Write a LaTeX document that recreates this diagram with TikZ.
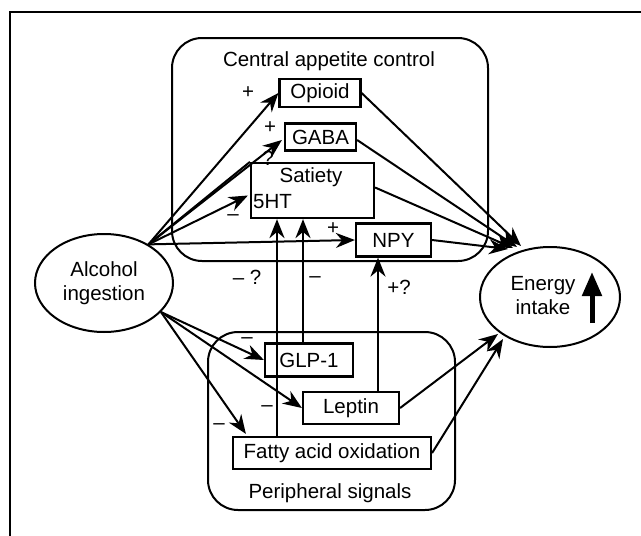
\documentclass[tikz,border=0pt]{standalone}
\usepackage{fontspec}
\setmainfont{Liberation Sans}
\usepackage{tikz}
\usetikzlibrary{positioning,arrows.meta,shapes.geometric,calc}

\begin{document}
\begin{tikzpicture}[x=1pt,y=-1pt,
    every node/.style={font=\fontsize{20.5}{24}\selectfont},
    box/.style={draw, line width=2.2pt, inner sep=0pt},
    grp/.style={draw, line width=2pt, rounded corners=30pt, inner sep=0pt},
    oval/.style={draw, ellipse, line width=2pt, inner sep=0pt, align=center},
    arr/.style={line width=2pt, -{Stealth[length=19pt,width=15pt]}},
    sign/.style={inner sep=0pt}]
  \useasboundingbox (0,0) rectangle (641,536);
  \draw[line width=2.5pt] (10,536) -- (10,12) -- (641,12);

  % groups
  \node[grp, minimum width=316pt, minimum height=223pt] (central) at (330,149.5) {};
  \node (centlbl) at (329,61) {Central appetite control};
  \node[grp, minimum width=247pt, minimum height=178pt] (periph) at (331.5,421) {};
  \node (perilbl) at (330,493) {Peripheral signals};

  % central signals
  \node[box, minimum width=81pt, minimum height=28pt] (op) at (320,93) {Opioid};
  \node[box, minimum width=71pt, minimum height=27pt] (gaba) at (320.5,137) {GABA};
  \node[box, minimum width=123pt, minimum height=55pt] (sat) at (312.5,190.5) {};
  \node (satlbl) at (311,177) {Satiety};
  \node[anchor=west, inner sep=0pt] (ht) at (253,202) {5HT};
  \node[box, minimum width=75pt, minimum height=33pt] (npy) at (393.5,240) {NPY};

  % peripheral signals
  \node[box, minimum width=88pt, minimum height=33pt] (glp) at (309,360) {GLP-1};
  \node[box, minimum width=96pt, minimum height=32pt] (lep) at (351,408) {Leptin};
  \node[box, minimum width=198pt, minimum height=32pt] (fao) at (332,453) {Fatty acid oxidation};

  % ellipses
  \node[oval, minimum width=138pt, minimum height=98pt] (alc) at (104,283) {Alcohol\\ingestion};
  \node[oval, minimum width=140pt, minimum height=100pt] (en) at (550,297) {};
  \node[align=center] (enlbl) at (543,296) {Energy\\intake};
  \draw[line width=5pt, -{Triangle[length=24pt,width=19pt]}]
    ($(en.center)+(42,26)$) -- ($(en.center)+(42,-25)$);

  % alcohol to central
  \draw[arr] (alc.41) -- (op.west);
  \draw[arr] (alc.41) -- ($(gaba.west)+(-2,3)$);
  \draw[line width=2pt] (alc.41) -- (sat.north west);
  \draw[arr] (alc.41) -- ($(sat.west)+(-2,5)$);
  \draw[arr] (alc.41) -- (npy.west);
  \node[sign] (s1) at (248,93) {+};
  \node[sign] (s2) at (270,128) {+};
  \node[sign] (s3) at (268,158) {?};
  \node[sign] (s4) at (233,218) {--};
  \node[sign] (s5) at (333,229) {+};

  % alcohol to peripheral
  \draw[arr] (alc.-27) -- (glp.west);
  \draw[arr] (alc.-27) -- (lep.west);
  \draw[arr] (alc.-27) -- ($(fao.north west)+(14,-2)$);
  \node[sign] (s6) at (247,341) {--};
  \node[sign] (s7) at (267,409) {--};
  \node[sign] (s8) at (219,427) {--};

  % peripheral to central
  \coordinate (v1) at (277,0);
  \coordinate (v2) at (303,0);
  \coordinate (v3) at (378,0);
  \draw[arr] (fao.north -| v1) -- (sat.south -| v1);
  \draw[arr] (glp.north -| v2) -- (sat.south -| v2);
  \draw[arr] (lep.north -| v3) -- (npy.south -| v3);
  \node[sign] (s9) at (247,277) {-- ?};
  \node[sign] (s10) at (315,280) {--};
  \node[sign] (s11) at (399,287) {+?};

  % to energy intake
  \coordinate (e1) at (521,246);
  \coordinate (e2) at (517,247);
  \coordinate (e3) at (513,248);
  \coordinate (e4) at (508,249);
  \coordinate (e5) at (498,334);
  \coordinate (e6) at (503,339);
  \draw[arr] (op.east) -- (e1);
  \draw[arr] ($(gaba.east)+(0,3)$) -- (e2);
  \draw[arr] ($(sat.east)+(0,-3)$) -- (e3);
  \draw[arr] (npy.east) -- (e4);
  \draw[arr] (lep.east) -- (e5);
  \draw[arr] (fao.east) -- (e6);
\end{tikzpicture}
\end{document}
